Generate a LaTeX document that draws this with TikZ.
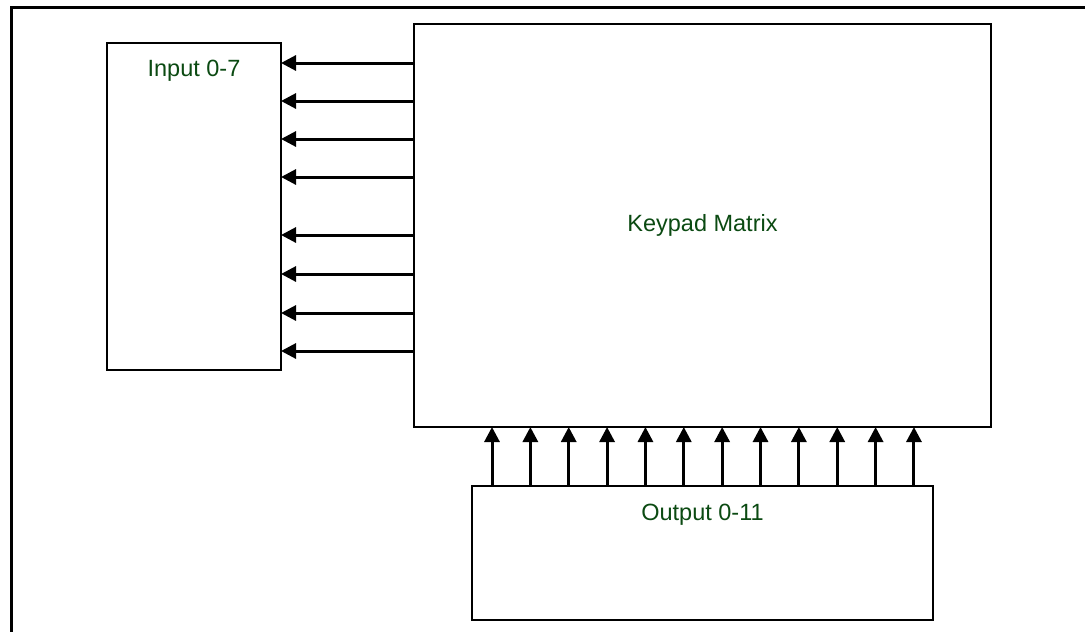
\documentclass[tikz,border=0pt]{standalone}
\usepackage{fontspec}
\setmainfont{Liberation Sans}
\usepackage{tikz}
\usetikzlibrary{positioning,arrows.meta,calc}
\definecolor{lblgrn}{HTML}{0B4A12}
\tikzset{
  box/.style={draw=black, line width=1.6pt, fill=white, inner sep=0pt, outer sep=0pt,
              anchor=north west},
  lbl/.style={text=lblgrn, inner sep=0pt, font=\fontsize{23.5}{28}\selectfont},
  wire/.style={-{Triangle[length=15pt,width=15pt]}, line width=3pt, draw=black},
  frame/.style={line width=3pt, draw=black},
}
\begin{document}
\begin{tikzpicture}[x=1pt,y=-1pt]
  \useasboundingbox (0,0) rectangle (1085,632);
  \draw[frame] (1085,7) -- (11,7) -- (11,632);
  \node[box,minimum width=174pt,minimum height=327pt] (inp) at (107,43) {};
  \node[box,minimum width=577pt,minimum height=403pt] (kp) at (414,24) {};
  \node[box,minimum width=461pt,minimum height=134pt] (outp) at (472,486) {};
  \node[lbl] at (kp.center) {Keypad Matrix};
  \node[lbl,below=17pt of inp.north] {Input 0-7};
  \node[lbl,below=18pt of outp.north] {Output 0-11};
  \foreach \y in {63,101,139,177,235,274,313,351}
    \draw[wire] (kp.west |- 0,\y) -- (inp.east |- 0,\y);
  \foreach \i in {0,...,11}
    \draw[wire] ($(outp.north -| 492,0)+(38.36*\i,0)$) -- ($(kp.south -| 492,0)+(38.36*\i,0)$);
\end{tikzpicture}
\end{document}
